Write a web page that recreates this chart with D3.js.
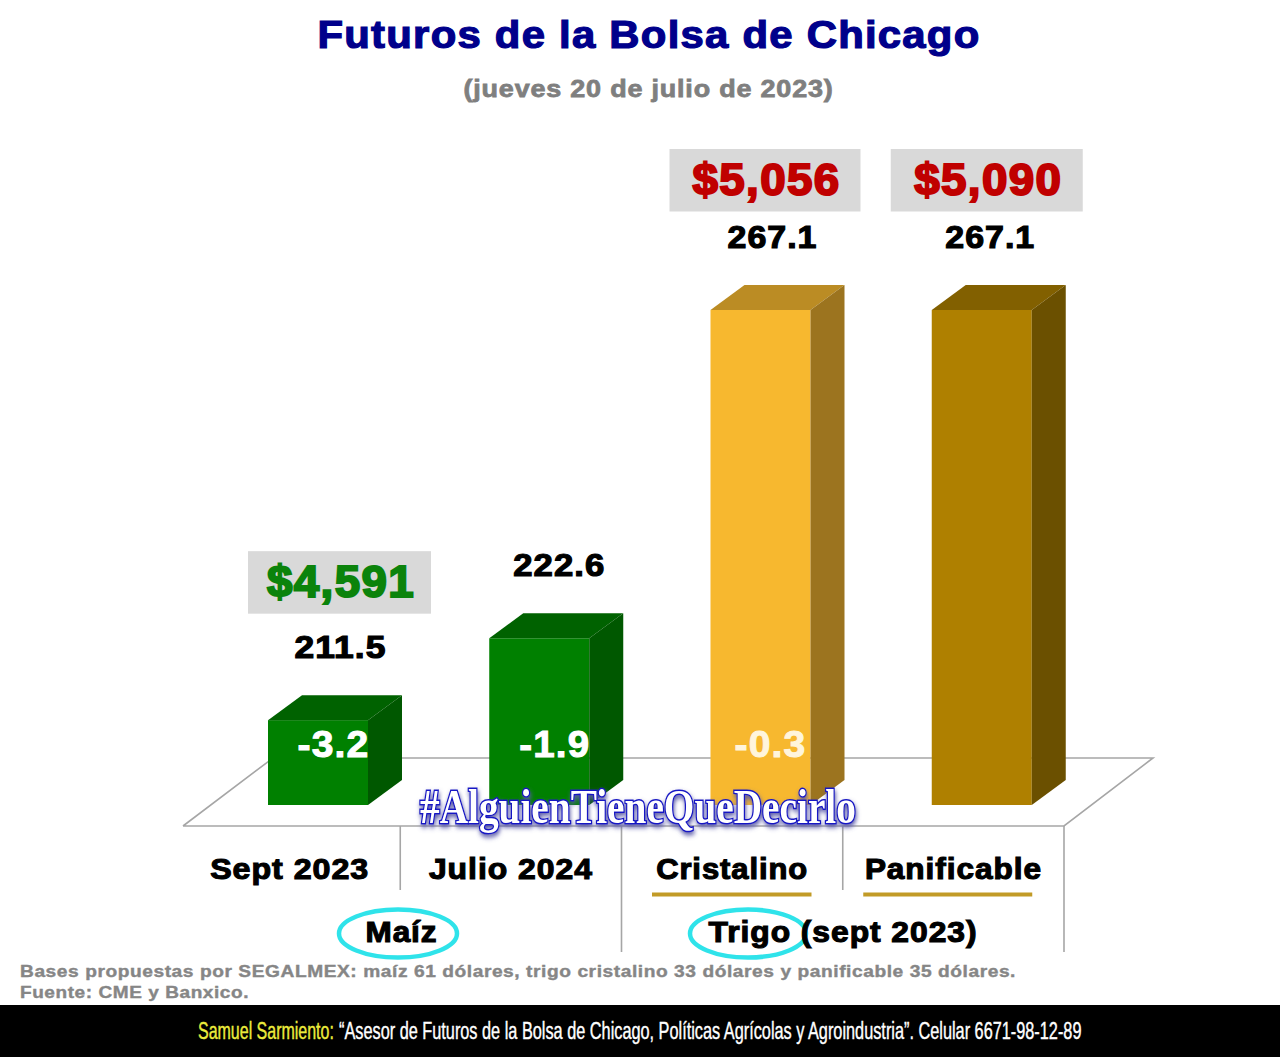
<!DOCTYPE html>
<html>
<head>
<meta charset="utf-8">
<script src="https://cdn.jsdelivr.net/npm/d3@7"></script>
<style>
	html, body { margin: 0; padding: 0; background: #fff; }
	svg { display: block; }
	text { font-family: "Liberation Sans", Arial, sans-serif; font-weight: bold; }
</style>
</head>
<body>
<div id="chart"></div>
<script>
// Chart values.
const categories = ["Sept 2023", "Julio 2024", "Cristalino", "Panificable"];
const prices = [211.5, 222.6, 267.1, 267.1];
const changes = [-3.2, -1.9, -0.3, null];
const tonPrices = ["$4,591", null, "$5,056", "$5,090"];
const groups = ["Maíz", "Trigo"];

const titleText = "Futuros de la Bolsa de Chicago";
const subtitleText = "(jueves 20 de julio de 2023)";
const hashtagText = "#AlguienTieneQueDecirlo";
const noteLines = [
	"Bases propuestas por SEGALMEX: maíz 61 dólares, trigo cristalino 33 dólares y panificable 35 dólares.",
	"Fuente: CME y Banxico."
];
const bannerName = "Samuel Sarmiento:";
const bannerRest = "“Asesor de Futuros de la Bolsa de Chicago, Políticas Agrícolas y Agroindustria”. Celular 6671-98-12-89";

// Dimensions of chart.
const width = 1280, height = 1057;
const baseY = 805, depthX = 34, depthY = 25, barLeft = 89, barWidth = 100;

// Face colours of each bar: front, top, side.
const faces = d3.scaleOrdinal()
	.domain(categories)
	.range([
		["#008000", "#006200", "#005800"],
		["#008000", "#006200", "#005800"],
		["#f7b82f", "#bb8c24", "#9c741f"],
		["#af8000", "#826000", "#6b5000"]
	]);

const svg = d3.select("#chart").append("svg")
	.attr("width", width)
	.attr("height", height);

// Scales: the y-axis of the original starts at 200.
const x = d3.scaleBand().domain(categories).range([179, 1064]);
const y = d3.scaleLinear().domain([200, 267.1]).range([baseY, 310]);

// Heavy text, widened to an exact width with a bit of letter spacing.
function label(parent, str, cx, by, size, w, color, heavy) {
	return parent.append("text")
		.attr("x", cx)
		.attr("y", by)
		.attr("text-anchor", "middle")
		.attr("font-size", size)
		.attr("textLength", w)
		.attr("lengthAdjust", "spacingAndGlyphs")
		.attr("fill", color)
		.attr("stroke", heavy ? color : "none")
		.attr("stroke-width", heavy || 0)
		.style("letter-spacing", "0.03em")
		.text(str);
}

// Condensed text: measure it, then squeeze the glyphs to the width wanted.
function squeezed(parent, str, left, by, size, w, color, family, weight) {
	const t = parent.append("text")
		.attr("font-size", size)
		.attr("fill", color)
		.style("font-family", family)
		.style("font-weight", weight)
		.text(str);
	const k = w / t.node().getComputedTextLength();
	return t.attr("transform", "translate(" + left + "," + by + ") scale(" + k + ",1)");
}

// Title
label(svg, titleText, 649, 48, 38, 663, "#00008b", 1.2);
label(svg, subtitleText, 648.5, 97, 24.5, 370, "#7f7f7f", 0.8);

// Floor of the 3d plot.
const floor = svg.append("g")
	.attr("fill", "none")
	.attr("stroke", "#a6a6a6")
	.attr("stroke-width", 1.6);
floor.append("path")
	.attr("d", d3.line()([[183, 826], [x.range()[1], 826], [1153, 758], [273, 758], [183, 826]]));

// Ticks between categories; the long ones separate the groups.
const tickEnds = [890, 952, 890, 952];
floor.selectAll("line")
	.data(categories)
	.join("line")
	.attr("x1", d => x(d) + x.step())
	.attr("x2", d => x(d) + x.step())
	.attr("y1", 826)
	.attr("y2", (d, i) => tickEnds[i]);

// Bars: front, top and side faces.
const bar = svg.selectAll("g.bar")
	.data(categories)
	.join("g")
	.attr("class", "bar");

bar.append("rect")
	.attr("x", d => x(d) + barLeft)
	.attr("y", (d, i) => y(prices[i]))
	.attr("width", barWidth)
	.attr("height", (d, i) => baseY - y(prices[i]))
	.attr("fill", d => faces(d)[0]);

bar.append("path")
	.attr("fill", d => faces(d)[1])
	.attr("d", (d, i) => {
		const l = x(d) + barLeft, t = y(prices[i]);
		return d3.line()([[l, t], [l + barWidth, t], [l + barWidth + depthX, t - depthY], [l + depthX, t - depthY]]) + "Z";
	});

bar.append("path")
	.attr("fill", d => faces(d)[2])
	.attr("d", (d, i) => {
		const r = x(d) + barLeft + barWidth, t = y(prices[i]);
		return d3.line()([[r, t], [r + depthX, t - depthY], [r + depthX, baseY - depthY], [r, baseY]]) + "Z";
	});

// Price above each bar.
const priceNudge = [22.5, 20, 12, 8.5];
const priceWidth = [92, 92, 90, 90];
categories.forEach((c, i) => {
	label(svg, prices[i].toFixed(1), x(c) + barLeft + barWidth / 2 + priceNudge[i], y(prices[i]) - 62, 32, priceWidth[i], "#000", 1.2);
});

// Price per ton, on a grey box.
const boxNudge = [21.5, 0, 4.5, 5];
const boxLift = [169, 0, 161, 161];
const boxWidth = [183, 0, 191, 192];
const tonColor = ["#0b830b", null, "#c00000", "#c00000"];
categories.forEach((c, i) => {
	if (!tonPrices[i]) return;
	const cx = x(c) + barLeft + barWidth / 2 + boxNudge[i],
		top = y(prices[i]) - boxLift[i];
	svg.append("rect")
		.attr("x", cx - boxWidth[i] / 2)
		.attr("y", top)
		.attr("width", boxWidth[i])
		.attr("height", 62.5)
		.attr("fill", "#d9d9d9");
	label(svg, tonPrices[i], cx + 1.5, top + 46, 44, 148, tonColor[i], 2);
});

// Change of the day, inside the bar.
const changeNudge = [15.5, 15.5, 10];
categories.forEach((c, i) => {
	if (changes[i] === null) return;
	label(svg, changes[i].toFixed(1), x(c) + barLeft + barWidth / 2 + changeNudge[i], 757, 37, i == 1 ? 71 : 72, i == 2 ? "#fff5dc" : "#fff", 1);
});

// Category labels, through the axis.
const axis = svg.append("g")
	.attr("transform", "translate(0,852)")
	.call(d3.axisBottom(x).tickSize(0).tickPadding(6));
axis.select(".domain").remove();
axis.selectAll("text")
	.attr("font-size", 29)
	.attr("fill", "#000")
	.attr("stroke", "#000")
	.attr("stroke-width", 1.1)
	.style("font-family", '"Liberation Sans", Arial, sans-serif')
	.style("letter-spacing", "0.03em")
	.attr("textLength", (d, i) => [159, 164, 152, 177][i])
	.attr("lengthAdjust", "spacingAndGlyphs");

// Underlines of the wheat categories.
const underlined = categories.slice(2);
svg.selectAll("line.under")
	.data(underlined)
	.join("line")
	.attr("class", "under")
	.attr("x1", (d, i) => x(d) + [30.5, 20.5][i])
	.attr("x2", (d, i) => x(d) + [190, 189.5][i])
	.attr("y1", 894.5)
	.attr("y2", 894.5)
	.attr("stroke", "#c29b27")
	.attr("stroke-width", 4);

// Group labels with their rings.
const rings = [[398, 59], [748, 58]];
svg.selectAll("ellipse")
	.data(groups)
	.join("ellipse")
	.attr("cx", (d, i) => rings[i][0])
	.attr("cy", 933.5)
	.attr("rx", (d, i) => rings[i][1])
	.attr("ry", 24)
	.attr("fill", "none")
	.attr("stroke", "#2fe3ea")
	.attr("stroke-width", 4.5);
label(svg, groups[0], 401.5, 942, 29, 72, "#000", 1.1);
label(svg, groups[1] + " (sept 2023)", 843, 942, 29, 269, "#000", 1.1);

// Hashtag on top of the bars.
const glow = svg.append("defs").append("filter")
	.attr("id", "glow")
	.attr("x", "-5%").attr("y", "-30%")
	.attr("width", "110%").attr("height", "170%");
glow.append("feDropShadow")
	.attr("dx", 1).attr("dy", 3)
	.attr("stdDeviation", 2.5)
	.attr("flood-color", "#5a5aa8");
squeezed(svg, hashtagText, 420, 823, 48, 436, "#fff", '"Liberation Serif", serif', "bold")
	.attr("stroke", "#1414c4")
	.attr("stroke-width", 3)
	.attr("paint-order", "stroke")
	.attr("filter", "url(#glow)");

// Notes
noteLines.forEach((line, i) => {
	svg.append("text")
		.attr("x", 20)
		.attr("y", 977 + i * 21)
		.attr("font-size", 17)
		.attr("textLength", [996, 229][i])
		.attr("lengthAdjust", "spacingAndGlyphs")
		.attr("fill", "#868686")
		.attr("stroke", "#868686")
		.attr("stroke-width", 0.4)
		.style("letter-spacing", "0.03em")
		.text(line);
});

// Black banner at the bottom.
svg.append("rect")
	.attr("x", 0)
	.attr("y", 1005)
	.attr("width", width)
	.attr("height", height - 1005)
	.attr("fill", "#000");
const condensed = '"Liberation Sans Narrow", "Liberation Sans", sans-serif';
squeezed(svg, bannerName, 198, 1039, 24, 136, "#ecec3c", condensed, "normal")
	.attr("stroke", "#ecec3c").attr("stroke-width", 0.4);
squeezed(svg, bannerRest, 339, 1039, 24, 743, "#fff", condensed, "normal")
	.attr("stroke", "#fff").attr("stroke-width", 0.4);
</script>
</body>
</html>
